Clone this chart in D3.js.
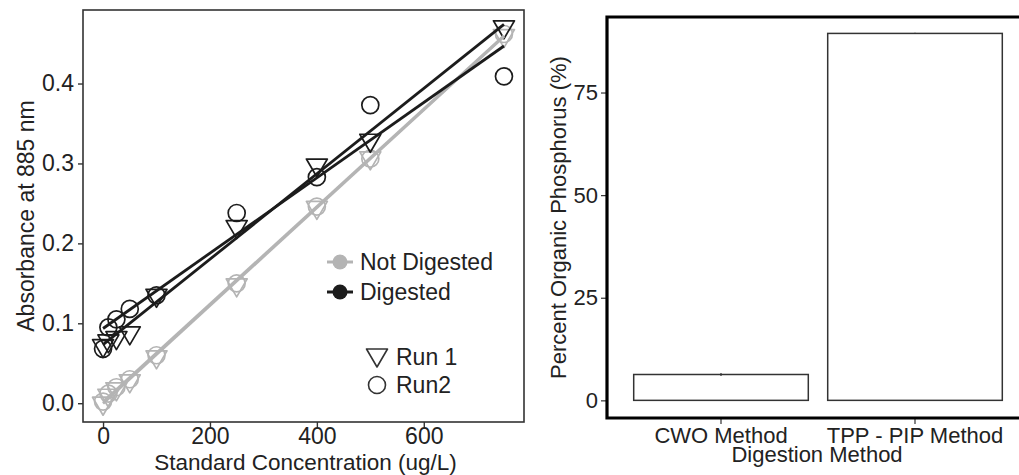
<!DOCTYPE html>
<html>
<head>
<meta charset="utf-8">
<script src="https://cdn.jsdelivr.net/npm/d3@7"></script>
<style>
  html, body { margin: 0; padding: 0; background: #fff; }
  svg { display: block; font-family: "Liberation Sans", Arial, Helvetica, sans-serif; }
</style>
</head>
<body>
<svg id="chart" width="1019" height="475"></svg>
<script>
// ---- Calibration standards ----
const concentrations = [0, 10, 25, 50, 100, 250, 400, 500, 750];
const notDigestedRun1 = [0.000, 0.010, 0.018, 0.028, 0.058, 0.148, 0.245, 0.307, 0.460];
const notDigestedRun2 = [0.002, 0.012, 0.020, 0.030, 0.060, 0.150, 0.246, 0.306, 0.462];
const digestedRun1    = [0.072, 0.078, 0.082, 0.088, 0.135, 0.221, 0.298, 0.329, 0.471];
const digestedRun2    = [0.068, 0.095, 0.105, 0.118, 0.135, 0.238, 0.283, 0.373, 0.409];
const xTicks = [0, 200, 400, 600];
const yTicks = [0.0, 0.1, 0.2, 0.3, 0.4];
const treatmentLabels = ["Not Digested", "Digested"];
const runLabels = ["Run 1", "Run2"];

// ---- Organic phosphorus by method ----
const methods = ["CWO Method", "TPP - PIP Method"];
const percentOrganic = [6.3, 89.4];
const percentError = [0.35, 0.15];
const percentTicks = [0, 25, 50, 75];

const svg = d3.select("#chart");
const GREY = "#b4b4b4", DARK = "#1c1c1c";

// ========== Left panel: calibration curves ==========
const L = { left: 83, right: 524, top: 10, bottom: 422 };
const x = d3.scaleLinear().domain([-37.5, 787.5]).range([L.left, L.right]);
const y = d3.scaleLinear().domain([-0.0235, 0.492]).range([L.bottom, L.top]);

const series = [
  { treat: 0, run: 0, vals: notDigestedRun1 },
  { treat: 0, run: 1, vals: notDigestedRun2 },
  { treat: 1, run: 0, vals: digestedRun1 },
  { treat: 1, run: 1, vals: digestedRun2 }
];
const colorOf = t => t === 0 ? GREY : DARK;

const left = svg.append("g");

// frame
left.append("rect")
  .attr("x", L.left).attr("y", L.top)
  .attr("width", L.right - L.left).attr("height", L.bottom - L.top)
  .attr("fill", "none").attr("stroke", "#333").attr("stroke-width", 1.6);

// axes
const xAxis = left.append("g").attr("transform", `translate(0,${L.bottom})`)
  .call(d3.axisBottom(x).tickValues(xTicks).tickSize(5).tickPadding(1).tickFormat(d3.format("d")));
const yAxis = left.append("g").attr("transform", `translate(${L.left},0)`)
  .call(d3.axisLeft(y).tickValues(yTicks).tickSize(5).tickPadding(4).tickFormat(d3.format(".1f")));
[xAxis, yAxis].forEach(a => {
  a.select(".domain").remove();
  a.selectAll(".tick line").attr("stroke", "#333").attr("stroke-width", 1.4);
  a.selectAll(".tick text").attr("fill", "#222").attr("font-size", 23);
});

// markers
const triPath = (cx, cy) => {
  const w = 21, h = 18;
  // centroid at (cx, cy), apex pointing down
  return `M${cx - w / 2},${cy - h / 3}L${cx + w / 2},${cy - h / 3}L${cx},${cy + 2 * h / 3}Z`;
};
const pts = left.append("g");
series.forEach(s => {
  const col = colorOf(s.treat);
  const data = concentrations.map((c, i) => [c, s.vals[i]]);
  if (s.run === 0) {
    pts.selectAll(null).data(data).join("path")
      .attr("d", d => triPath(x(d[0]), y(d[1])))
      .attr("fill", "none").attr("stroke", col).attr("stroke-width", 1.7)
      .attr("stroke-linejoin", "round");
  } else {
    pts.selectAll(null).data(data).join("circle")
      .attr("cx", d => x(d[0])).attr("cy", d => y(d[1])).attr("r", 8.5)
      .attr("fill", "none").attr("stroke", col).attr("stroke-width", 1.7);
  }
});

// least-squares fit lines per treatment and run
function fit(xs, ys) {
  const mx = d3.mean(xs), my = d3.mean(ys);
  const sxy = d3.sum(xs, (v, i) => (v - mx) * (ys[i] - my));
  const sxx = d3.sum(xs, v => (v - mx) ** 2);
  const b = sxy / sxx;
  return { a: my - b * mx, b };
}
const fits = left.append("g");
const xMin = d3.min(concentrations), xMax = d3.max(concentrations);
series.forEach(s => {
  const f = fit(concentrations, s.vals);
  fits.append("line")
    .attr("x1", x(xMin)).attr("y1", y(f.a + f.b * xMin))
    .attr("x2", x(xMax)).attr("y2", y(f.a + f.b * xMax))
    .attr("stroke", colorOf(s.treat)).attr("stroke-width", 2.8);
});

// legend: treatment
const lg = left.append("g");
treatmentLabels.forEach((lab, i) => {
  const cy = 262 + i * 30;
  lg.append("line").attr("x1", 327).attr("x2", 353).attr("y1", cy).attr("y2", cy)
    .attr("stroke", colorOf(i)).attr("stroke-width", 3);
  lg.append("circle").attr("cx", 340).attr("cy", cy).attr("r", 7.5).attr("fill", colorOf(i));
  lg.append("text").attr("x", 360).attr("y", cy).attr("dy", "0.36em")
    .attr("font-size", 23).attr("fill", "#222").text(lab);
});
// legend: run
runLabels.forEach((lab, i) => {
  const cy = 357 + i * 28;
  if (i === 0) {
    lg.append("path").attr("d", triPath(377, cy - 2)).attr("fill", "none")
      .attr("stroke", "#333").attr("stroke-width", 1.6).attr("stroke-linejoin", "round");
  } else {
    lg.append("circle").attr("cx", 377).attr("cy", cy).attr("r", 8.5)
      .attr("fill", "none").attr("stroke", "#333").attr("stroke-width", 1.6);
  }
  lg.append("text").attr("x", 396).attr("y", cy).attr("dy", "0.36em")
    .attr("font-size", 23).attr("fill", "#222").text(lab);
});

// axis titles
left.append("text").attr("x", (L.left + L.right) / 2 + 2).attr("y", 469.5)
  .attr("text-anchor", "middle").attr("font-size", 22.5).attr("fill", "#222")
  .text("Standard Concentration (ug/L)");
left.append("text").attr("transform", `translate(34,${(L.top + L.bottom) / 2}) rotate(-90)`)
  .attr("text-anchor", "middle").attr("font-size", 23).attr("fill", "#222")
  .text("Absorbance at 885 nm");

// ========== Right panel: percent organic phosphorus ==========
const R = { left: 607, top: 17, bottom: 418 };
const xb = d3.scaleBand().domain(methods).range([624, 1012]).paddingInner(0.1).paddingOuter(0.05);
const yb = d3.scaleLinear().domain([-4.3, 93.4]).range([R.bottom, R.top]);

const right = svg.append("g");
const bars = methods.map((m, i) => ({ m, v: percentOrganic[i], e: percentError[i] }));

right.selectAll("rect.bar").data(bars).join("rect").attr("class", "bar")
  .attr("x", d => xb(d.m)).attr("width", xb.bandwidth())
  .attr("y", d => yb(d.v)).attr("height", d => yb(0) - yb(d.v))
  .attr("fill", "#fff").attr("stroke", "#333").attr("stroke-width", 1.5);

right.selectAll("line.err").data(bars).join("line").attr("class", "err")
  .attr("x1", d => xb(d.m) + xb.bandwidth() / 2).attr("x2", d => xb(d.m) + xb.bandwidth() / 2)
  .attr("y1", d => yb(d.v - d.e)).attr("y2", d => yb(d.v + d.e))
  .attr("stroke", "#333").attr("stroke-width", 1.2);

const ybAxis = right.append("g").attr("transform", `translate(${R.left},0)`)
  .call(d3.axisLeft(yb).tickValues(percentTicks).tickSize(6).tickPadding(3));
const xbAxis = right.append("g").attr("transform", `translate(0,${R.bottom})`)
  .call(d3.axisBottom(xb).tickSize(6).tickPadding(3));
[ybAxis, xbAxis].forEach(a => {
  a.select(".domain").remove();
  a.selectAll(".tick line").attr("stroke", "#333").attr("stroke-width", 1.2);
  a.selectAll(".tick text").attr("fill", "#222").attr("font-size", 22);
});

// thick frame: left, top and bottom edges (right edge lies outside the canvas)
right.append("path")
  .attr("d", `M1030,${R.top}H${R.left}V${R.bottom}H1030`)
  .attr("fill", "none").attr("stroke", "#000").attr("stroke-width", 3.2);

right.append("text").attr("x", 817).attr("y", 462)
  .attr("text-anchor", "middle").attr("font-size", 22).attr("fill", "#222")
  .text("Digestion Method");
right.append("text").attr("transform", `translate(566,${(R.top + R.bottom) / 2}) rotate(-90)`)
  .attr("text-anchor", "middle").attr("font-size", 22).attr("fill", "#222")
  .text("Percent Organic Phosphorus (%)");
</script>
</body>
</html>
